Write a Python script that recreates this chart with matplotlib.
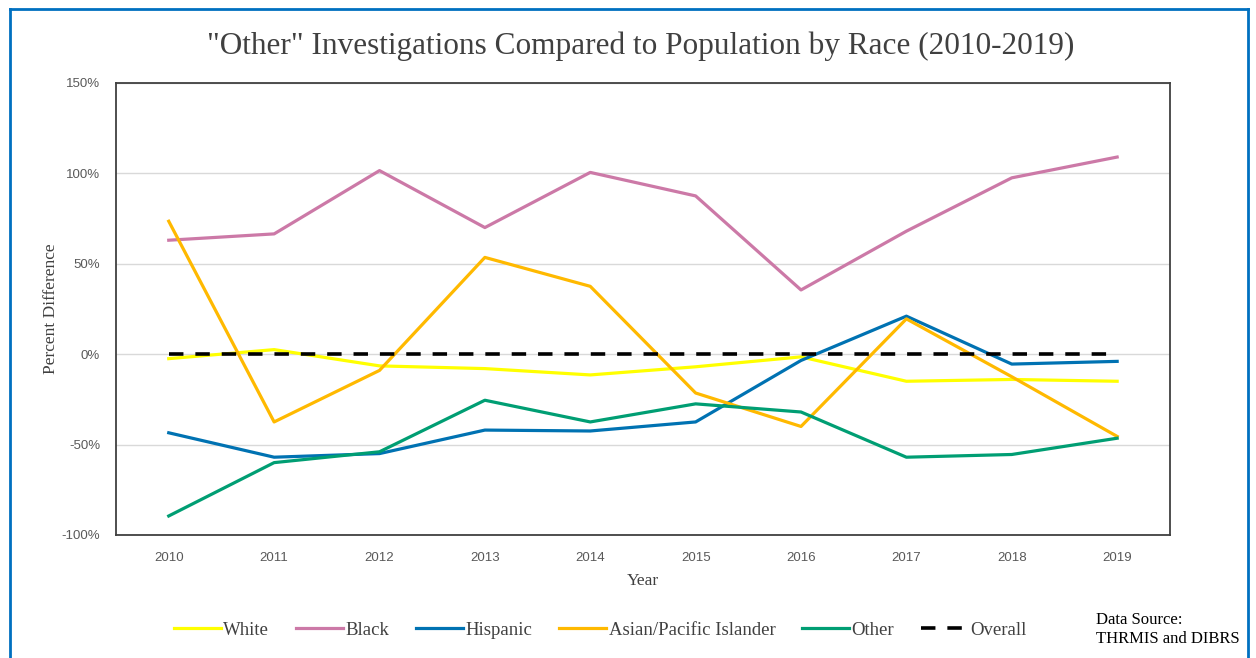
import matplotlib
matplotlib.use("Agg")
import matplotlib.pyplot as plt
from matplotlib.lines import Line2D
from matplotlib.ticker import FuncFormatter

# data (percent difference)
years = [2010, 2011, 2012, 2013, 2014, 2015, 2016, 2017, 2018, 2019]
white = [-2.5, 2.5, -6.5, -8, -11.5, -7, -1.5, -15, -14, -15]
black = [63, 66.5, 101.5, 70, 100.5, 87.5, 35.5, 68, 97.5, 109]
hispanic = [-43.5, -57, -55, -42, -42.5, -37.5, -3.5, 21, -5.5, -4]
asian = [73.5, -37.5, -9, 53.5, 37.5, -21.5, -40, 19.5, -12.5, -45.5]
other = [-89.5, -60, -54, -25.5, -37.5, -27.5, -32, -57, -55.5, -46.5]
overall = [0, 0, 0, 0, 0, 0, 0, 0, 0, 0]

serif = "Liberation Serif"
sans = "Liberation Sans"

fig = plt.figure(figsize=(12.56, 6.58), dpi=100)
ax = fig.add_axes([0.0924, 0.187, 0.839, 0.687])

ax.plot(years, white, color="#FFFF00", lw=2.3, label="White")
ax.plot(years, black, color="#CC79A7", lw=2.3, label="Black")
ax.plot(years, hispanic, color="#0072B2", lw=2.3, label="Hispanic")
ax.plot(years, asian, color="#FFB900", lw=2.3, label="Asian/Pacific Islander")
ax.plot(years, other, color="#009E73", lw=2.3, label="Other")
ax.plot(years, overall, color="black", lw=2.6, ls=(0, (4, 3.3)), label="Overall")

ax.set_xlim(2009.5, 2019.5)
ax.set_ylim(-100, 150)
ax.set_yticks([-100, -50, 0, 50, 100, 150])
ax.yaxis.set_major_formatter(FuncFormatter(lambda v, p: f"{v:.0f}%"))
ax.set_xticks(years)
ax.grid(axis="y", color="#d9d9d9", lw=1)
ax.set_axisbelow(True)
ax.tick_params(length=0, labelcolor="#595959", labelsize=9.5)
ax.tick_params(axis="y", pad=11.5)
ax.tick_params(axis="x", pad=12)
for lab in ax.get_xticklabels() + ax.get_yticklabels():
    lab.set_fontfamily(sans)
for s in ax.spines.values():
    s.set_color("#404040")
    s.set_linewidth(1.3)

ax.set_xlabel("Year", fontfamily=serif, fontsize=12.5, color="#404040", labelpad=7)
ax.set_ylabel("Percent Difference", fontfamily=serif, fontsize=12.5, color="#404040", labelpad=2)

fig.text(0.51, 0.93, '"Other" Investigations Compared to Population by Race (2010-2019)',
         ha="center", va="center", fontfamily=serif, fontsize=22.5, color="#404040")

fig.legend(loc="center", bbox_to_anchor=(0.478, 0.042), ncol=6, frameon=False,
           prop={"family": serif, "size": 13.5}, handlelength=2.5, handletextpad=0.12,
           columnspacing=1.45, labelcolor="#404040")

fig.text(0.873, 0.044, "Data Source:\nTHRMIS and DIBRS", ha="left", va="center",
         fontfamily=serif, fontsize=12, linespacing=1.25, color="black")

# blue frame around the chart
blue = "#0070C0"
fig.add_artist(Line2D([0.008, 0.008], [-0.01, 0.986], color=blue, lw=2, transform=fig.transFigure))
fig.add_artist(Line2D([0.008, 0.994], [0.986, 0.986], color=blue, lw=2, transform=fig.transFigure))
fig.add_artist(Line2D([0.994, 0.994], [-0.01, 0.986], color=blue, lw=2, transform=fig.transFigure))

fig.savefig("out.png", dpi=100)
